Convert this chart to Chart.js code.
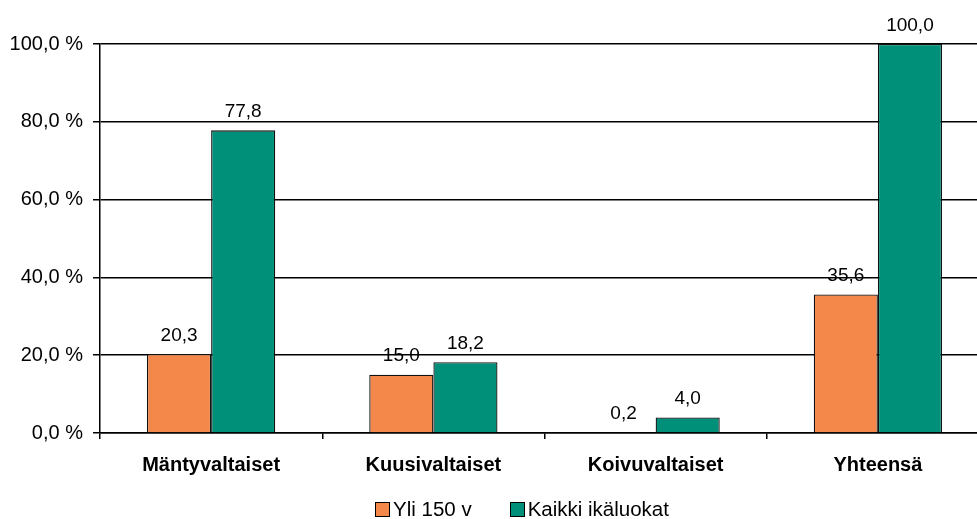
<!DOCTYPE html>
<html>
<head>
<meta charset="utf-8">
<script src="https://cdn.jsdelivr.net/npm/chart.js@4"></script>
<style>
  html, body { margin: 0; padding: 0; background: #fff; overflow: hidden; }
  #wrap { position: relative; width: 977px; height: 519px; overflow: hidden; }
  #legend { position: absolute; left: 375px; top: 499px; display: flex; align-items: center;
            font: 20.5px 'Liberation Sans', Arial, sans-serif; color: #000; line-height: 20px; white-space: nowrap; }
  #legend .item { display: flex; align-items: center; margin-right: 38px; }
  #legend .box { width: 13px; height: 13px; border: 1.5px solid #000; margin-right: 3px; }
</style>
</head>
<body>
<div id="wrap">
  <!-- plot runs a little past the right edge in the original, so the canvas is wider than the view -->
  <canvas id="chart" width="989" height="519"></canvas>
  <div id="legend"></div>
</div>
<script>
const categories = ['Mäntyvaltaiset', 'Kuusivaltaiset', 'Koivuvaltaiset', 'Yhteensä'];
const yli150 = [20.3, 15.0, 0.2, 35.6];
const kaikki = [77.8, 18.2, 4.0, 100.0];
const seriesNames = ['Yli 150 v', 'Kaikki ikäluokat'];
const yTicks = [0, 20, 40, 60, 80, 100];

const fmt = v => v.toFixed(1).replace('.', ',');
const FONT = 'Liberation Sans, Arial, sans-serif';

// value above each bar, finnish decimal comma
const valueLabels = {
  id: 'valueLabels',
  afterDatasetsDraw(chart) {
    const ctx = chart.ctx;
    ctx.save();
    ctx.font = '19px ' + FONT;
    ctx.fillStyle = '#000';
    ctx.textAlign = 'center';
    ctx.textBaseline = 'bottom';
    chart.data.datasets.forEach((ds, i) => {
      chart.getDatasetMeta(i).data.forEach((bar, j) => {
        ctx.fillText(fmt(ds.data[j]), bar.x, bar.y - 9);
      });
    });
    ctx.restore();
  }
};

const chart = new Chart(document.getElementById('chart'), {
  type: 'bar',
  data: {
    labels: categories,
    datasets: [
      { label: seriesNames[0], data: yli150, backgroundColor: '#F4884A', borderColor: '#111', borderWidth: 1.3 },
      { label: seriesNames[1], data: kaikki, backgroundColor: '#009079', borderColor: '#111', borderWidth: 1.3 }
    ]
  },
  options: {
    responsive: false,
    animation: false,
    layout: { padding: { top: 44, right: 0, left: 0, bottom: 40 } },
    datasets: { bar: { categoryPercentage: 0.577, barPercentage: 1 } },
    plugins: {
      tooltip: { enabled: false },
      legend: { display: false }
    },
    scales: {
      x: {
        offset: true,
        grid: { offset: true, drawOnChartArea: false, drawTicks: true, tickLength: 6, color: '#000', lineWidth: 1.5 },
        border: { color: '#000', width: 1.5 },
        ticks: { color: '#000', font: { family: FONT, size: 20, weight: 'bold' }, padding: 14 },
        afterFit(s) { s.height = 46; }
      },
      y: {
        min: 0,
        max: 100,
        afterBuildTicks(s) { s.ticks = yTicks.map(v => ({ value: v })); },
        grid: { color: '#000', lineWidth: 1.5, tickLength: 7 },
        border: { color: '#000', width: 1.5 },
        ticks: {
          color: '#000',
          font: { family: FONT, size: 20 },
          padding: 10,
          callback: v => fmt(v) + ' %'
        },
        afterFit(s) { s.width = 100; }
      }
    }
  },
  plugins: [valueLabels]
});

// legend from the chart's own datasets
document.getElementById('legend').innerHTML = chart.data.datasets.map(ds =>
  `<div class="item"><span class="box" style="background:${ds.backgroundColor}"></span>${ds.label}</div>`
).join('');
</script>
</body>
</html>
